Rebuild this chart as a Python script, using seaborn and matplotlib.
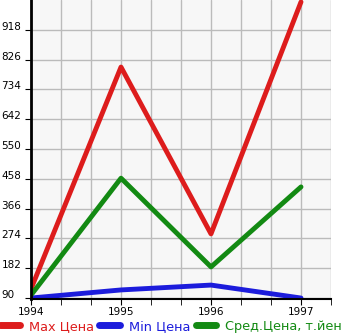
import matplotlib
matplotlib.use("Agg")
import matplotlib.pyplot as plt
import seaborn as sns
import pandas as pd
import numpy as np

years = [1994, 1995, 1996, 1997]
max_price = [118, 803, 288, 1004]
min_price = [90, 115, 130, 90]
avg_price = [99, 460, 186, 433]
yticks = [90, 182, 274, 366, 458, 550, 642, 734, 826, 918]
labels = ["Max Цена", "Min Цена", "Сред.Цена, т.йен"]
colors = ["#dd1c1c", "#1c1cdc", "#138a13"]

sns.set_style("white")
plt.rcParams['font.family'] = ['DejaVu Sans']

df = pd.DataFrame({"year": years * 3,
                   "value": max_price + min_price + avg_price,
                   "series": sum([[l] * 4 for l in labels], [])})

fig = plt.figure(figsize=(3.45, 3.35), dpi=100)
ax = fig.add_axes([31/345, 36/335, 300/345, 299/335])
ax.set_facecolor("#f7f7f7")

sns.lineplot(data=df, x="year", y="value", hue="series", palette=colors,
             linewidth=3.5, ax=ax, legend=False, solid_capstyle="round")

ax.set_xlim(1994, 1997.333)
ax.set_ylim(87, 1010)
ax.set_xticks([1994, 1995, 1996, 1997])
ax.set_xticks(np.arange(1994, 1997.4, 1/3), minor=True)
ax.set_yticks(yticks)
ax.grid(True, which="both", axis="x", color="#bbbbbb", linewidth=1)
ax.grid(True, which="major", axis="y", color="#bbbbbb", linewidth=1)
ax.set_axisbelow(True)
ax.set_xlabel("")
ax.set_ylabel("")

for s in ["top", "right"]:
    ax.spines[s].set_visible(False)
ax.spines["left"].set_color("black")
ax.spines["left"].set_linewidth(2)
ax.spines["bottom"].set_color("black")
ax.spines["bottom"].set_linewidth(1.5)

ax.tick_params(axis="x", which="both", direction="out", length=4, color="black",
               labelsize=7.5, pad=2, bottom=True, labelcolor="black")
ax.tick_params(axis="y", which="major", direction="out", length=4, color="black",
               labelsize=7.5, pad=17.3, left=True, labelcolor="black")
for t in ax.get_yticklabels():
    t.set_horizontalalignment("left")
    t.set_verticalalignment("baseline")

handles = [plt.Line2D([], [], color=c, linewidth=5, solid_capstyle="round") for c in colors]
fig.legend(handles, labels, loc="lower left", bbox_to_anchor=(-0.035, -0.028),
           ncol=3, frameon=False, fontsize=9.3, handlelength=1.6, handletextpad=0.7,
           columnspacing=0.4, labelcolor=colors)

fig.savefig("out.png", dpi=100)
